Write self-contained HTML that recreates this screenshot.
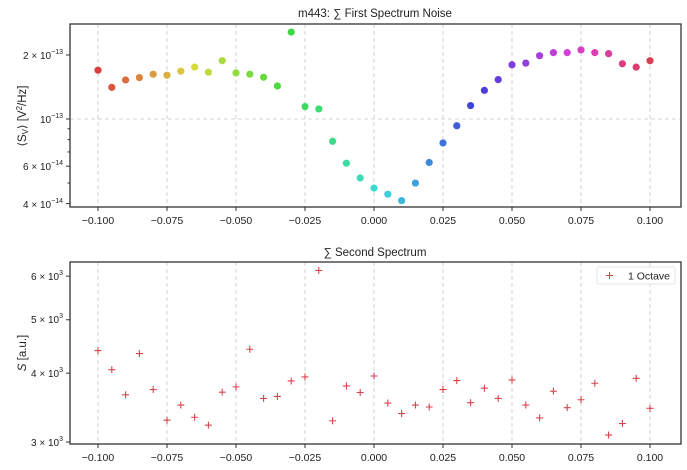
<!DOCTYPE html>
<html><head><meta charset="utf-8"><style>
html,body{margin:0;padding:0;background:#fff;}
svg{display:block;font-family:"Liberation Sans",Arial,sans-serif;}
</style></head><body>
<svg id="s" width="687" height="470" viewBox="0 0 687 470" xmlns="http://www.w3.org/2000/svg">
<rect width="687" height="470" fill="#fff"/>
<g id="grid" stroke="#c8c8c8" stroke-width="0.8" stroke-dasharray="4,3"></g>
<g id="pts"></g>
<rect x="70" y="24" width="611" height="183" fill="none" stroke="#333" stroke-width="1.3"/>
<rect x="70" y="262" width="611" height="182" fill="none" stroke="#333" stroke-width="1.3"/>
<g id="ticks" stroke="#333" stroke-width="1"></g>
<g font-size="10.5" fill="#222" text-anchor="middle">
<text x="98" y="224">−0.100</text><text x="167" y="224">−0.075</text><text x="236" y="224">−0.050</text><text x="305" y="224">−0.025</text><text x="374" y="224">0.000</text><text x="443" y="224">0.025</text><text x="512" y="224">0.050</text><text x="581" y="224">0.075</text><text x="650" y="224">0.100</text>
<text x="98" y="461">−0.100</text><text x="167" y="461">−0.075</text><text x="236" y="461">−0.050</text><text x="305" y="461">−0.025</text><text x="374" y="461">0.000</text><text x="443" y="461">0.025</text><text x="512" y="461">0.050</text><text x="581" y="461">0.075</text><text x="650" y="461">0.100</text>
</g>
<g font-size="10" fill="#222" text-anchor="end">
<text x="63" y="59">2 × 10<tspan font-size="7" dy="-5">−13</tspan></text>
<text x="63" y="123">10<tspan font-size="7" dy="-5">−13</tspan></text>
<text x="63" y="170">6 × 10<tspan font-size="7" dy="-5">−14</tspan></text>
<text x="63" y="208">4 × 10<tspan font-size="7" dy="-5">−14</tspan></text>
<text x="63" y="280">6 × 10<tspan font-size="7" dy="-5">3</tspan></text>
<text x="63" y="323">5 × 10<tspan font-size="7" dy="-5">3</tspan></text>
<text x="63" y="377">4 × 10<tspan font-size="7" dy="-5">3</tspan></text>
<text x="63" y="446">3 × 10<tspan font-size="7" dy="-5">3</tspan></text>
</g>
<text x="375" y="17" font-size="11.5" fill="#222" text-anchor="middle">m443: ∑ First Spectrum Noise</text>
<text x="375" y="256" font-size="11.5" fill="#222" text-anchor="middle">∑ Second Spectrum</text>
<text transform="translate(26,116) rotate(-90)" font-size="11.5" fill="#222" text-anchor="middle">⟨S<tspan font-size="8" dy="2">V</tspan><tspan dy="-2">⟩ [V</tspan><tspan font-size="8" dy="-4">2</tspan><tspan dy="4">/Hz]</tspan></text>
<text transform="translate(26,353) rotate(-90)" font-size="11.5" fill="#222" text-anchor="middle"><tspan font-style="italic">S</tspan> [a.u.]</text>
<rect x="597" y="267" width="78" height="17" rx="2" fill="#fff" stroke="#ddd" stroke-width="0.8"/>
<path d="M606,275.5h7M609.5,272v7" stroke="#d9434d" stroke-width="1.1"/>
<text x="628" y="279.5" font-size="10.5" fill="#222">1 Octave</text>
</svg>
<script>
(function(){
var NS="http://www.w3.org/2000/svg";
function el(p,t,a){var e=document.createElementNS(NS,t);for(var k in a)e.setAttribute(k,a[k]);p.appendChild(e);return e;}
var G=document.getElementById('grid'),P=document.getElementById('pts'),T=document.getElementById('ticks');
for(var i=0;i<9;i++){var x=98+69*i;el(G,'line',{x1:x,y1:24,x2:x,y2:207});el(G,'line',{x1:x,y1:262,x2:x,y2:444});
el(T,'line',{x1:x,y1:207,x2:x,y2:211});el(T,'line',{x1:x,y1:444,x2:x,y2:448});}
el(G,'line',{x1:70,y1:119,x2:681,y2:119});
function yt(v){return 119-212.6*(Math.log10(v)+13);}
[4e-14,6e-14,1e-13,2e-13].forEach(function(v){el(T,'line',{x1:66,x2:70,y1:yt(v),y2:yt(v)});});
[5e-14,7e-14,8e-14,9e-14].forEach(function(v){el(T,'line',{x1:67.5,x2:70,y1:yt(v),y2:yt(v)});});
function yb(v){return 442-551*Math.log10(v/3000);}
[3e3,4e3,5e3,6e3].forEach(function(v){el(T,'line',{x1:66,x2:70,y1:yb(v),y2:yb(v)});});
var topv=[210,261,239,232,222,225,213,201,216,182,218,222,231,257,97,318,325,421,486,530,560,578,597,545,484,426,375,315,270,238,194,189,167,158,158,150,158,161,191,201,182];
var bot=[363,421,497,372,481,574,528,565,589,489,473,359,508,502,455,443,120,576,470,490,440,522,554,528,534,481,454,521,477,508,452,528,567,486,536,512,462,619,584,447,538];
for(var i=0;i<41;i++){var x=98+13.8*i;
var y=55+(topv[i]-165)*0.337;var h=(i/41)*360;
el(P,'circle',{cx:x,cy:y,r:3.6,fill:'hsl('+h+',68%,55%)'});
var y2=276+(bot[i]-137)*0.33;
el(P,'path',{d:'M'+(x-3.5)+','+y2+'h7M'+x+','+(y2-3.5)+'v7',stroke:'#d9434d','stroke-width':1.1});}
})();
</script>
</body></html>
